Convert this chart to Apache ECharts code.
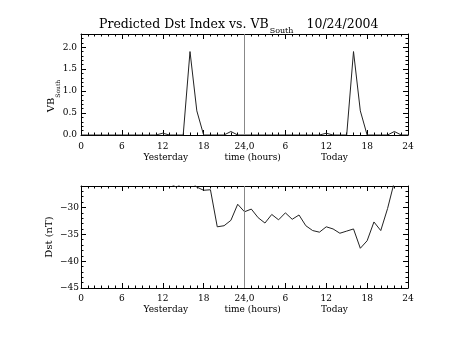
<!DOCTYPE html>
<html><head><meta charset="utf-8">
<script src="https://cdn.jsdelivr.net/npm/echarts@6/dist/echarts.min.js"></script>
<style>html,body{margin:0;padding:0;background:#fff}#c{width:453px;height:340px}</style>
</head><body><div id="c"></div>
<script>
// ---- data ----
const hours = [0,1,2,3,4,5,6,7,8,9,10,11,12,13,14,15,16,17,18,19,20,21,22,23,24,
               25,26,27,28,29,30,31,32,33,34,35,36,37,38,39,40,41,42,43,44,45,46,47,48];
const vbSouth = [0,0,0,0,0,0,0,0,0,0,0,0,0.04,0,0,0,1.9,0.55,0,0,0,0,0.08,0,0,
                 0,0,0,0,0,0,0,0,0,0,0,0.04,0,0,0,1.9,0.55,0,0,0,0,0.08,0,0];
const dst = [null,null,null,null,null,null,null,null,null,null,null,null,null,
             -25.5,-26.2,-25.4,-25.0,-26.2,-26.8,-26.7,-33.6,-33.4,-32.4,-29.4,-30.8,
             -30.3,-31.9,-32.9,-31.3,-32.3,-31.0,-32.2,-31.4,-33.4,-34.3,-34.6,-33.6,
             -34.0,-34.8,-34.4,-34.0,-37.6,-36.2,-32.7,-34.3,-30.2,-25.2,null,null];
const xTickLabels = ['0','6','12','18','24,0','6','12','18','24'];
const xSubLabels = ['Yesterday','time (hours)','Today'];
const dayBoundary = [24];
const titleMain = 'Predicted Dst Index vs. VB';
const titleSub = 'South';
const titleDate = '10/24/2004';
const vbName = ['VB','South'];
const dstName = 'Dst (nT)';

// ---- layout / style ----
const FONT = 'DejaVu Serif';
const INK = '#000';
const subLabelAt = [12.45, 25.2, 37.2];
const grids = [
  {left:81, top:34, width:327, height:101},
  {left:81, top:186, width:327, height:102}
];
const tickStyle = {show:true, inside:true, length:5, lineStyle:{color:INK, width:1}};
const minorX = {show:true, splitNumber:6, length:2.5, lineStyle:{color:INK, width:1}};
const minorY = {show:true, splitNumber:5, length:2.5, lineStyle:{color:INK, width:1}};
const lineAx = {show:true, onZero:false, lineStyle:{color:INK, width:1}};

function xAxes(gi, m1, m2){
  const base = {type:'value', gridIndex:gi, min:0, max:48, interval:6,
    splitLine:{show:false}, minorSplitLine:{show:false}};
  return [
    Object.assign({}, base, {position:'bottom', axisLine:lineAx, axisTick:tickStyle, minorTick:minorX,
      axisLabel:{show:true, margin:m1, color:INK, fontFamily:FONT, fontSize:9, hideOverlap:false,
        formatter:(v)=>xTickLabels[Math.round(v/6)]}}),
    Object.assign({}, base, {position:'top', axisLine:lineAx, axisTick:tickStyle, minorTick:minorX,
      axisLabel:{show:false}}),
    Object.assign({}, base, {position:'bottom', axisLine:{show:false}, axisTick:{show:false}, minorTick:{show:false},
      axisLabel:{show:true, margin:m2, color:INK, fontFamily:FONT, fontSize:9, hideOverlap:false,
        customValues:subLabelAt,
        formatter:(v)=>{const i=subLabelAt.findIndex(p=>Math.abs(p-v)<1e-6); return i>=0?xSubLabels[i]:'';}}})
  ];
}
function yAxes(gi, min, max, interval, fmt, margin, name, nameGap, nameStyle){
  const base = {type:'value', gridIndex:gi, min:min, max:max, interval:interval,
    splitLine:{show:false}, minorSplitLine:{show:false}, axisLine:lineAx, axisTick:tickStyle, minorTick:minorY};
  return [
    Object.assign({}, base, {position:'left',
      axisLabel:{show:true, margin:margin, color:INK, fontFamily:FONT, fontSize:9, showMaxLabel:false, formatter:fmt},
      name:name, nameLocation:'middle', nameRotate:90, nameGap:nameGap, nameMoveOverlap:false,
      nameTextStyle:nameStyle}),
    Object.assign({}, base, {position:'right', axisLabel:{show:false}})
  ];
}

const option = {
  animation:false,
  backgroundColor:'#fff',
  title:{
    left:94, top:9,
    text:'{m|'+titleMain+'}{s|'+titleSub+'}{d|'+titleDate+'}',
    textStyle:{fontWeight:'normal', rich:{
      m:{fontFamily:FONT, fontSize:12.5, fontWeight:'normal', color:INK},
      s:{fontFamily:FONT, fontSize:8, fontWeight:'normal', color:INK, padding:[13,0,0,1]},
      d:{fontFamily:FONT, fontSize:12.5, fontWeight:'normal', color:INK, padding:[0,0,0,13]}
    }}
  },
  grid:grids,
  xAxis:[].concat(xAxes(0,7,18), xAxes(1,6,17)),
  yAxis:[].concat(
    yAxes(0, 0, 2.3, 0.5, (v)=>v.toFixed(1), 4,
      '{m|'+vbName[0]+'}{s|'+vbName[1]+'}', 20,
      {color:INK, padding:[0,23,0,0], rich:{
        m:{fontFamily:FONT, fontSize:10, color:INK},
        s:{fontFamily:FONT, fontSize:6, color:INK, padding:[14,0,0,0]}}}),
    yAxes(1, -45, -26, 5, (v)=>(v<0?'\u2212':'')+Math.abs(v), 2,
      dstName, 27, {fontFamily:FONT, fontSize:10, color:INK})
  ),
  series:[
    {type:'line', xAxisIndex:0, yAxisIndex:0, data:hours.map((h,i)=>[h,vbSouth[i]]),
     showSymbol:false, lineStyle:{color:'#222', width:1}, clip:true, silent:true,
     markLine:{silent:true, symbol:['none','none'], label:{show:false}, animation:false,
       lineStyle:{color:'#888', type:'solid', width:1}, emphasis:{disabled:true},
       data:dayBoundary.map(d=>({xAxis:d}))}},
    {type:'line', xAxisIndex:3, yAxisIndex:2, data:hours.map((h,i)=>[h,dst[i]]),
     showSymbol:false, connectNulls:false, lineStyle:{color:'#222', width:1}, clip:true, silent:true,
     markLine:{silent:true, symbol:['none','none'], label:{show:false}, animation:false,
       lineStyle:{color:'#888', type:'solid', width:1}, emphasis:{disabled:true},
       data:dayBoundary.map(d=>({xAxis:d}))}}
  ]
};
const chart = echarts.init(document.getElementById('c'), null, {renderer:'canvas'});
chart.setOption(option);
</script>
</body></html>
